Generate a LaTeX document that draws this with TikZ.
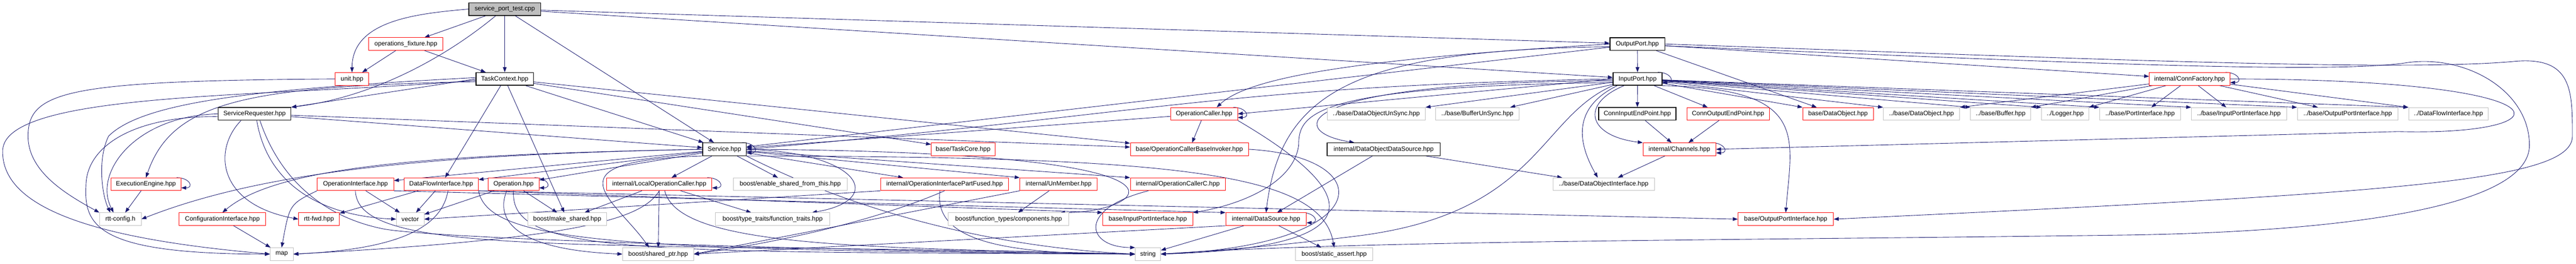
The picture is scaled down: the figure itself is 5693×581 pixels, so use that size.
\documentclass[tikz,border=0pt]{standalone}
\usepackage{fontspec}
\setmainfont{Liberation Sans}
\usetikzlibrary{arrows.meta,backgrounds}

\definecolor{inclblue}{RGB}{25,25,112}
\definecolor{extgray}{RGB}{191,191,191}

\tikzset{
  hdr/.style={rectangle, inner sep=0pt, minimum height=28pt, line width=1pt,
    fill=white, font=\fontsize{14}{16}\selectfont},
  doc/.style={hdr, draw=black, line width=1.6pt},
  trunc/.style={hdr, draw=red},
  ext/.style={hdr, draw=extgray},
  root/.style={doc, fill=extgray},
  incl/.style={draw=inclblue, line width=1pt, -{Triangle[length=11pt,width=8pt]}}
}

\begin{document}
\begin{tikzpicture}[x=1pt,y=-1pt]
\useasboundingbox (0,0) rectangle (5693,581);

\node[root, minimum width=159] (spt) at (1115.5,20) {service\_port\_test.cpp};

\node[trunc, minimum width=164] (opfix) at (897,97) {operations\_fixture.hpp};
\node[doc, minimum width=121] (outport) at (3618.5,97) {OutputPort.hpp};

\node[trunc, minimum width=74] (unit) at (778,174) {unit.hpp};
\node[doc, minimum width=127] (taskctx) at (1115.5,174) {TaskContext.hpp};
\node[doc, minimum width=108] (inport) at (3619,174) {InputPort.hpp};
\node[trunc, minimum width=178] (connfac) at (4839,174) {internal/ConnFactory.hpp};

\node[doc, minimum width=161] (servreq) at (562.5,251) {ServiceRequester.hpp};
\node[trunc, minimum width=148] (opcaller) at (2661,251) {OperationCaller.hpp};
\node[ext, minimum width=217] (dobjunsync) at (3041.5,251) {../base/DataObjectUnSync.hpp};
\node[ext, minimum width=184] (bufunsync) at (3265,251) {../base/BufferUnSync.hpp};
\node[doc, minimum width=171] (conninep) at (3618.5,251) {ConnInputEndPoint.hpp};
\node[trunc, minimum width=182] (connoutep) at (3819,251) {ConnOutputEndPoint.hpp};
\node[trunc, minimum width=156] (basedobj) at (4062,251) {base/DataObject.hpp};
\node[ext, minimum width=169] (dobj) at (4246.5,251) {../base/DataObject.hpp};
\node[ext, minimum width=133] (buffer) at (4421.5,251) {../base/Buffer.hpp};
\node[ext, minimum width=104] (logger) at (4564,251) {../Logger.hpp};
\node[ext, minimum width=179] (portif) at (4729.5,251) {../base/PortInterface.hpp};
\node[ext, minimum width=210] (inportiftwo) at (4948,251) {../base/InputPortInterface.hpp};
\node[ext, minimum width=223] (outportiftwo) at (5188.5,251) {../base/OutputPortInterface.hpp};
\node[ext, minimum width=176] (dfiftwo) at (5411,251) {../DataFlowInterface.hpp};

\node[doc, minimum width=96] (service) at (1601,329) {Service.hpp};
\node[trunc, minimum width=141] (taskcore) at (2128.5,329) {base/TaskCore.hpp};
\node[trunc, minimum width=261] (invoker) at (2628.5,329) {base/OperationCallerBaseInvoker.hpp};
\node[doc, minimum width=250] (dods) at (3058,329) {internal/DataObjectDataSource.hpp};
\node[trunc, minimum width=161] (channels) at (3711.5,329) {internal/Channels.hpp};

\node[trunc, minimum width=155] (engine) at (322.5,406) {ExecutionEngine.hpp};
\node[trunc, minimum width=169] (opif) at (785.5,406) {OperationInterface.hpp};
\node[trunc, minimum width=164] (dfif) at (975,406) {DataFlowInterface.hpp};
\node[trunc, minimum width=112] (operation) at (1135,406) {Operation.hpp};
\node[trunc, minimum width=232] (localoc) at (1457,406) {internal/LocalOperationCaller.hpp};
\node[ext, minimum width=251] (enableshared) at (1746.5,406) {boost/enable\_shared\_from\_this.hpp};
\node[trunc, minimum width=283] (partfused) at (2087.5,406) {internal/OperationInterfacePartFused.hpp};
\node[trunc, minimum width=171] (unmember) at (2339.5,406) {internal/UnMember.hpp};
\node[trunc, minimum width=210] (occ) at (2603,406) {internal/OperationCallerC.hpp};
\node[ext, minimum width=224] (dobjif) at (3544,406) {../base/DataObjectInterface.hpp};

\node[ext, minimum width=92] (rttconfig) at (266,483) {rtt-config.h};
\node[trunc, minimum width=191] (confif) at (491.5,483) {ConfigurationInterface.hpp};
\node[trunc, minimum width=90] (rttfwd) at (705,483) {rtt-fwd.hpp};
\node[ext, minimum width=61] (vector) at (906.5,483) {vector};
\node[ext, minimum width=175] (makeshared) at (1253.5,483) {boost/make\_shared.hpp};
\node[ext, minimum width=253] (functraits) at (1707.5,483) {boost/type\_traits/function\_traits.hpp};
\node[ext, minimum width=266] (components) at (2229,483) {boost/function\_types/components.hpp};
\node[trunc, minimum width=199] (inportif) at (2536.5,483) {base/InputPortInterface.hpp};
\node[trunc, minimum width=178] (datasource) at (2798,483) {internal/DataSource.hpp};
\node[trunc, minimum width=211] (outportif) at (3946.5,483) {base/OutputPortInterface.hpp};

\node[ext, minimum width=51] (map) at (622.5,560) {map};
\node[ext, minimum width=157] (sharedptr) at (1454.5,560) {boost/shared\_ptr.hpp};
\node[ext, minimum width=56] (string) at (2537,560) {string};
\node[ext, minimum width=171] (staticassert) at (2948.5,560) {boost/static\_assert.hpp};

\begin{scope}[on background layer]
\draw[incl] (spt.west) to[out=185,in=90] (unit.north);
\draw[incl] (spt) -- (opfix);
\draw[incl] (spt) -- (taskctx);
\draw[incl] ([xshift=-20pt]spt.south) .. controls (980,130) and (820,215) .. (servreq.north east);
\draw[incl] (spt) -- (service);
\draw[incl] (spt) -- (outport);
\draw[incl] (spt) -- (inport);
\draw[incl] (opfix) -- (unit);
\draw[incl] (opfix) -- (taskctx);
\draw[incl] (unit.west) .. controls (150,178) and (62,200) .. (62,300) .. controls (62,380) and (150,430) .. (rttconfig.north west);

\draw[incl] (taskctx.west) -- (servreq.north east);
\draw[incl] ([yshift=-3pt]taskctx.west) .. controls (600,215) and (15,200) .. (6,330) .. controls (0,470) and (250,530) .. (map.west);
\draw[incl] ([yshift=3pt]taskctx.west) .. controls (600,195) and (320,220) .. (240,300) .. controls (215,350) and (225,430) .. ([xshift=-22pt]rttconfig.north);
\draw[incl] ([yshift=-6pt]taskctx.west) .. controls (540,190) and (380,225) .. (engine.north);
\draw[incl] (taskctx) -- (dfif);
\draw[incl] (taskctx) -- (makeshared);
\draw[incl] (taskctx) -- (service);
\draw[incl] (taskctx) -- (taskcore);
\draw[incl] (taskctx) -- (invoker);

\draw[incl] (servreq.west) .. controls (300,255) and (205,380) .. ([xshift=-15pt]rttconfig.north);
\draw[incl] ([yshift=-6pt]servreq.west) .. controls (300,255) and (190,320) .. (190,410) .. controls (185,500) and (220,560) .. (map.west);
\draw[incl] ([xshift=-30pt]servreq.south) .. controls (470,330) and (480,450) .. (rttfwd.west);
\draw[incl] ([xshift=5pt]servreq.south) .. controls (590,400) and (700,475) .. (vector.west);
\draw[incl] ([xshift=12pt]servreq.south) .. controls (620,400) and (720,480) .. (850,505) .. controls (1000,530) and (2000,555) .. (string.west);
\draw[incl] (servreq) -- (service);
\draw[incl] (servreq) -- (invoker);

\draw[incl] ([xshift=-10pt]service.north east) to[out=0,in=0,looseness=3] ([yshift=-8pt]service.east);
\draw[incl] (service) -- (localoc);
\draw[incl] (service) -- (enableshared);
\draw[incl] (service.east) .. controls (1900,335) and (1960,440) .. ([xshift=-40pt]functraits.north east);
\draw[incl] (service) -- (partfused);
\draw[incl] (service) -- (unmember.north west);
\draw[incl] (service) -- (occ.north west);
\draw[incl] (service.east) .. controls (2750,335) and (2520,470) .. ([xshift=-20pt]components.north east);
\draw[incl] (service.south east) .. controls (1900,470) and (2200,545) .. (string.west);
\draw[incl] (service.south east) .. controls (2600,345) and (2920,380) .. (staticassert.north);
\draw[incl] (service) -- (opif);
\draw[incl] (service) -- (dfif);
\draw[incl] (service) -- (operation);
\draw[incl] (service.south west) .. controls (1200,355) and (1360,440) .. ([xshift=-20pt]sharedptr.north);
\draw[incl] (service.west) .. controls (1000,340) and (600,370) .. (rttconfig.east);
\draw[incl] (service.west) .. controls (1000,340) and (620,360) .. (confif.north);

\draw[incl] ([xshift=-10pt]localoc.north east) to[out=0,in=0,looseness=3] ([yshift=-8pt]localoc.east);
\draw[incl] (localoc) -- (functraits);
\draw[incl] (localoc) -- (sharedptr);
\draw[incl] (localoc) -- (makeshared);
\draw[incl] (localoc.south) .. controls (1420,480) and (1300,525) .. (map.east);
\draw[incl] ([xshift=12pt]localoc.south) .. controls (1500,545) and (1900,545) .. (string.west);

\draw[incl] ([xshift=-10pt]operation.north east) to[out=0,in=0,looseness=3] ([yshift=-8pt]operation.east);
\draw[incl] (operation) -- (makeshared);
\draw[incl] (operation) -- (vector);
\draw[incl] ([xshift=-15pt]operation.south) .. controls (1095,480) and (1130,550) .. (sharedptr.west);
\draw[incl] (operation.south) .. controls (1125,560) and (1400,555) .. (string.west);

\draw[incl] (opif) -- (vector);
\draw[incl] (opif.south) .. controls (790,570) and (1300,530) .. (string.west);
\draw[incl] (opif.south east) -- (datasource.north west);
\draw[incl] (opif.south west) .. controls (640,450) .. (map.north);

\draw[incl] (dfif) -- (vector);
\draw[incl] (dfif) -- (rttfwd);
\draw[incl] ([xshift=15pt]dfif.south) .. controls (975,510) and (860,550) .. (map.east);
\draw[incl] (dfif.south east) .. controls (1080,540) and (1400,550) .. (string.west);
\draw[incl] (dfif.south east) -- (inportif.north west);
\draw[incl] (dfif.south east) -- (outportif.west);

\draw[incl] ([xshift=-10pt]engine.north east) to[out=0,in=0,looseness=3] ([yshift=-8pt]engine.east);
\draw[incl] (engine) -- (rttconfig);
\draw[incl] (confif) -- (map);

\draw[incl] (partfused.south) .. controls (1950,480) and (1750,530) .. (sharedptr.east);
\draw[incl] (partfused.south west) -- (vector.east);
\draw[incl] ([xshift=-10pt]partfused.south) .. controls (2060,540) and (2250,560) .. (string.west);
\draw[incl] (unmember) -- (components);
\draw[incl] (unmember.south west) -- (sharedptr.east);
\draw[incl] ([xshift=-65pt]occ.south) .. controls (2380,460) and (2400,545) .. (string.north west);

\draw[incl] ([xshift=-10pt]opcaller.north east) to[out=0,in=0,looseness=3] ([yshift=-8pt]opcaller.east);
\draw[incl] (opcaller) -- (invoker);
\draw[incl] (opcaller) -- (service);
\draw[incl] (opcaller.south east) .. controls (3000,420) and (3060,545) .. (string.east);
\draw[incl] (invoker.east) .. controls (3050,345) and (3050,540) .. (string.east);

\draw[incl] ([xshift=-10pt]datasource.north east) to[out=0,in=0,looseness=3] ([yshift=-8pt]datasource.east);
\draw[incl] (datasource) -- (string);
\draw[incl] (datasource) -- (staticassert);
\draw[incl] (datasource.south west) -- (sharedptr.east);

\draw[incl] (dods) -- (dobjif);
\draw[incl] (dods) -- (datasource);
\draw[incl] ([xshift=-10pt]channels.north east) to[out=0,in=0,looseness=3] ([yshift=-8pt]channels.east);
\draw[incl] (channels) -- (dobjif);
\draw[incl] (conninep) -- (channels);
\draw[incl] (connoutep) -- (channels);

\draw[incl] ([xshift=-10pt]connfac.north east) to[out=0,in=0,looseness=3] ([yshift=-8pt]connfac.east);
\draw[incl] (connfac) -- (dobj.north east);
\draw[incl] (connfac) -- (buffer.north east);
\draw[incl] (connfac) -- (logger.north east);
\draw[incl] (connfac) -- ([xshift=25pt]portif.north);
\draw[incl] (connfac) -- ([xshift=-28pt]inportiftwo.north);
\draw[incl] (connfac) -- ([xshift=-66pt]outportiftwo.north);
\draw[incl] (connfac) -- (dfiftwo.north west);
\draw[incl] (connfac.east) .. controls (5700,175) and (5680,300) .. (5300,290) -- (channels.east);

\draw[incl] ([xshift=-10pt]inport.north east) to[out=0,in=0,looseness=3] ([yshift=-8pt]inport.east);
\draw[incl] (inport) -- (dobjunsync.north east);
\draw[incl] (inport) -- ([xshift=-20pt]bufunsync.north east);
\draw[incl] (inport) -- (conninep);
\draw[incl] (inport) -- ([xshift=-45pt]connoutep.north);
\draw[incl] (inport) -- (basedobj.north west);
\draw[incl] (inport) -- (dobj.north west);
\draw[incl] (inport) -- (buffer.north west);
\draw[incl] (inport) -- (logger.north west);
\draw[incl] (inport) -- (portif.north west);
\draw[incl] (inport) -- (inportiftwo.north west);
\draw[incl] (inport) -- (outportiftwo.north west);
\draw[incl] (inport) -- (dfiftwo.north west);
\draw[incl] ([xshift=-30pt]inport.south) .. controls (3490,230) and (3510,300) .. (channels.north west);
\draw[incl] ([xshift=-45pt]inport.south) .. controls (3470,240) and (3490,320) .. ([xshift=-13pt]dobjif.north);
\draw[incl] (inport.south west) .. controls (3400,260) and (3400,470) .. (3000,520) .. controls (2800,545) and (2650,555) .. (string.east);
\draw[incl] (inport.south east) .. controls (4000,195) and (3960,300) .. (outportif.north);
\draw[incl] (inport.west) .. controls (2700,190) and (2560,250) .. (service.east);
\draw[incl] (inport.west) -- (opcaller.east);
\draw[incl] ([yshift=-4pt]inport.west) .. controls (2850,180) and (2840,290) .. ([xshift=-65pt]dods.north);
\draw[incl] ([yshift=-8pt]inport.west) .. controls (2900,190) and (2870,250) .. (2870,320) .. controls (2860,400) and (2750,450) .. (inportif.north east);

\draw[incl] (outport) -- (inport);
\draw[incl] (outport) -- (service);
\draw[incl] (outport.west) .. controls (3000,130) and (2760,170) .. ([xshift=28pt]opcaller.north);
\draw[incl] ([yshift=-6pt]outport.west) .. controls (3000,110) and (2830,200) .. (datasource.north);
\draw[incl] (outport) -- (connfac);
\draw[incl] (outport) -- ([xshift=-47pt]basedobj.north);
\draw[incl] (outport.east) .. controls (4500,125) and (5300,160) .. (5560,135) .. controls (5685,125) and (5685,200) .. (5685,300) .. controls (5685,400) and (5300,425) .. (outportif.east);
\draw[incl] ([yshift=-4pt]outport.east) .. controls (4500,135) and (5150,165) .. (5320,138) .. controls (5450,120) and (5590,200) .. (5590,320) .. controls (5590,470) and (5100,512) .. (4700,518) .. controls (3800,530) and (3000,530) .. (string.east);
\end{scope}
\end{tikzpicture}
\end{document}
